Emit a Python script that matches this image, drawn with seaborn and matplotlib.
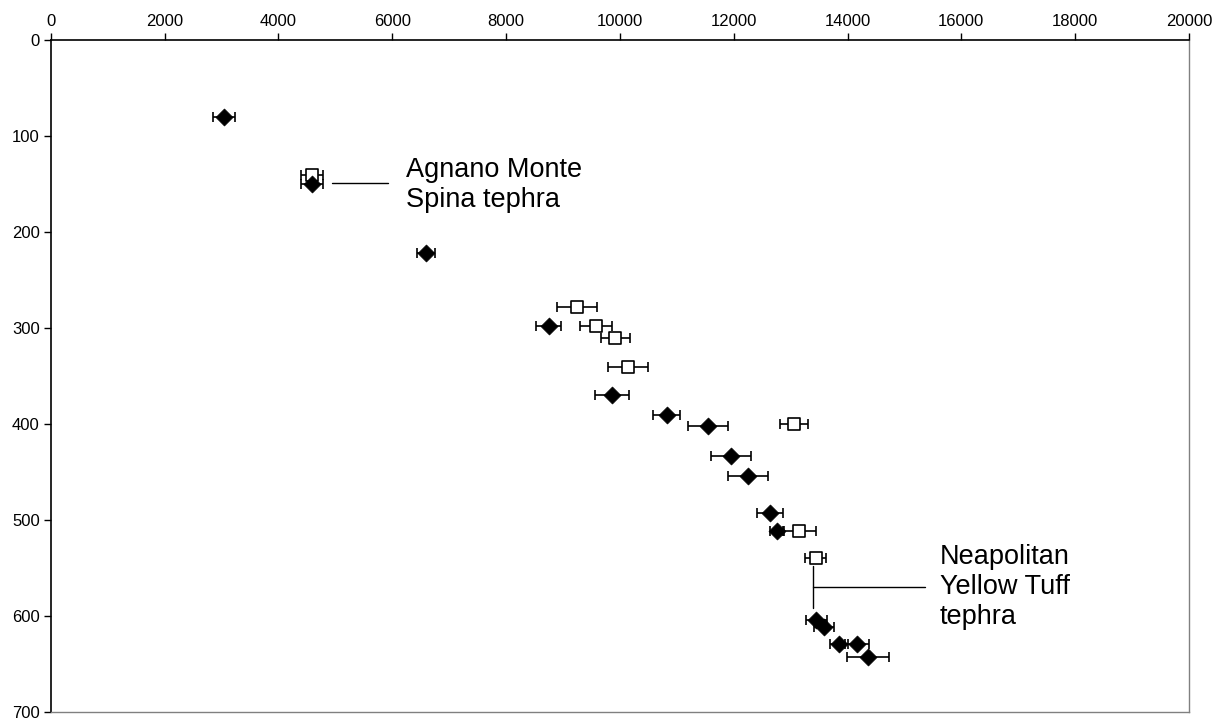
import numpy as np
import pandas as pd
import seaborn as sns
import matplotlib.pyplot as plt

# Filled diamonds: age, depth, age error
filled_age = [3040, 4590, 6590, 8750, 9860, 10820, 11550, 11950, 12250,
              12640, 12760, 13450, 13590, 13850, 14160, 14360]
filled_depth = [80, 150, 222, 298, 370, 391, 402, 433, 454,
                493, 512, 604, 612, 629, 629, 643]
filled_err = [190, 195, 155, 215, 305, 235, 350, 350, 350,
              230, 120, 185, 180, 150, 210, 375]

# Open squares: age, depth, age error
open_age = [4590, 9250, 9580, 9920, 10150, 13060, 13150, 13440]
open_depth = [140, 278, 298, 310, 341, 400, 512, 540]
open_err = [195, 355, 280, 250, 350, 250, 290, 185]

x_ticks = list(range(0, 20001, 2000))
y_ticks = list(range(0, 701, 100))

sns.set_style('white')
plt.rcParams['font.family'] = ['Liberation Sans', 'DejaVu Sans']
plt.rcParams['text.color'] = 'black'
plt.rcParams['xtick.color'] = 'black'
plt.rcParams['ytick.color'] = 'black'

fig = plt.figure(figsize=(12.26, 7.19), dpi=100)
ax = fig.add_axes([0.0414, 0.0102, 0.9284, 0.9338])

# error bars first, markers on top
ax.errorbar(open_age, open_depth, xerr=open_err, fmt='none', ecolor='black',
            elinewidth=1.2, capsize=3.5, capthick=1.2, zorder=2)
ax.errorbar(filled_age, filled_depth, xerr=filled_err, fmt='none', ecolor='black',
            elinewidth=1.2, capsize=3.5, capthick=1.2, zorder=2)

sns.scatterplot(x=open_age, y=open_depth, marker='s', s=70, facecolor='white',
                edgecolor='black', linewidth=1.2, ax=ax, zorder=3)
sns.scatterplot(x=filled_age, y=filled_depth, marker='D', s=75, color='black',
                edgecolor='black', linewidth=0.5, ax=ax, zorder=4)

# annotations
ax.plot([4935, 5930], [149, 149], color='black', lw=1)
ax.text(6250, 151, 'Agnano Monte\nSpina tephra', fontsize=19.5, va='center',
        ha='left', linespacing=1.2, color='black')
ax.plot([13398, 13398], [548, 592], color='black', lw=1)
ax.plot([13398, 15357], [570, 570], color='black', lw=1)
ax.text(15620, 570, 'Neapolitan\nYellow Tuff\ntephra', fontsize=19.5, va='center',
        ha='left', linespacing=1.2, color='black')

ax.set_xlim(0, 20000)
ax.set_ylim(700, 0)
ax.set_xticks(x_ticks)
ax.set_yticks(y_ticks)
ax.xaxis.tick_top()
ax.tick_params(axis='both', direction='out', length=5, width=1, color='black',
               labelcolor='black', labelsize=12, pad=3)
ax.tick_params(axis='x', top=True, bottom=False)
ax.tick_params(axis='y', left=True, right=False)

for side in ['left', 'top']:
    ax.spines[side].set_color('black')
    ax.spines[side].set_linewidth(1.2)
for side in ['right', 'bottom']:
    ax.spines[side].set_color('#808080')
    ax.spines[side].set_linewidth(1.0)

fig.savefig('out.png', dpi=100)
